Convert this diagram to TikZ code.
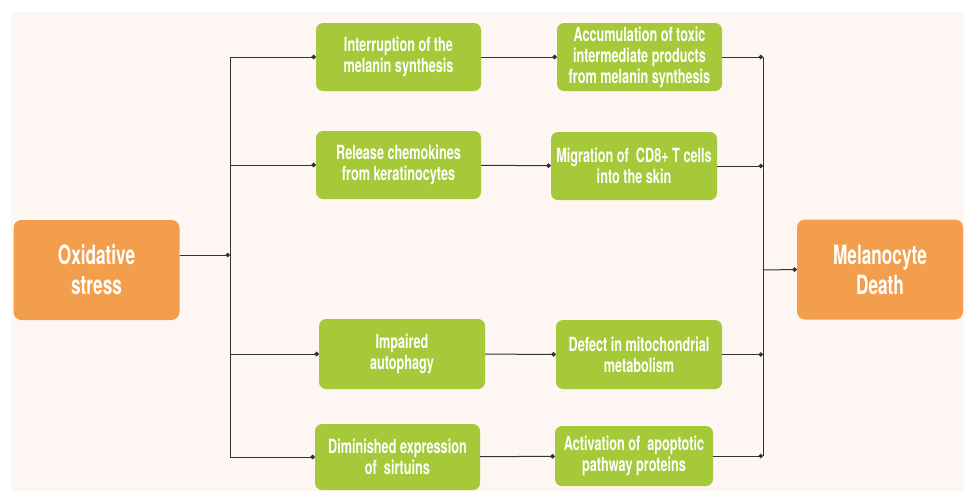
\documentclass[tikz,border=0pt]{standalone}
\usepackage{fontspec}
\setmainfont{TeX Gyre Heros}[FakeStretch=0.65]
\usetikzlibrary{arrows.meta}
\definecolor{leaf}{RGB}{165,201,57}
\definecolor{peel}{RGB}{242,158,76}
\definecolor{paper}{RGB}{253,246,243}
\definecolor{wire}{RGB}{50,50,50}

\begin{document}
\begin{tikzpicture}[x=1pt,y=-1pt,
    stage/.style={fill=leaf, rounded corners=7pt, text=white, align=center, inner sep=0pt,
      font=\bfseries\fontsize{19.5}{21}\selectfont},
    cause/.style={fill=peel, rounded corners=8pt, text=white, align=center, inner sep=0pt,
      minimum width=166pt, minimum height=100pt, font=\bfseries\fontsize{26.5}{30}\selectfont},
    link/.style={draw=wire, line width=1pt},
    dot/.style={-{Circle[length=4.5pt, width=4.5pt]}}]
    \useasboundingbox (0,0) rectangle (964,491);
    \fill[paper] (11,12) rectangle (964,491);

      \node[cause] (ox) at (96.5,270) {Oxidative\\stress};
      \node[cause] (death) at (880,269.5) {Melanocyte\\Death};
      \node[stage, minimum width=165pt, minimum height=68pt] (int) at (398.5,57) {Interruption of the\\melanin synthesis};
      \node[stage, minimum width=165pt, minimum height=68pt] (acc) at (639.5,57) {Accumulation of toxic\\intermediate products\\from melanin synthesis};
      \node[stage, minimum width=165pt, minimum height=68pt] (rel) at (398.5,165) {Release chemokines\\from keratinocytes};
      \node[stage, minimum width=166pt, minimum height=68pt] (mig) at (634,166) {Migration of\ \ CD8+ T cells\\into the skin};
      \node[stage, minimum width=166pt, minimum height=70pt] (imp) at (402,354) {Impaired\\autophagy};
      \node[stage, minimum width=166pt, minimum height=69pt] (def) at (639,354.5) {Defect in mitochondrial\\metabolism};
      \node[stage, minimum width=165pt, minimum height=66pt] (dim) at (397.5,457) {Diminished expression\\of\ \ sirtuins};
      \node[stage, minimum width=158pt, minimum height=60pt] (act) at (634,456) {Activation of\ \ apoptotic\\pathway proteins};

      \coordinate (lbus) at (230,255);
      \coordinate (rbus) at (763,270);

      \draw[link, dot] (ox.east |- lbus) -- (lbus);
      \draw[link] (int.west -| lbus) -- (dim.west -| lbus);
      \foreach \n in {int,rel,imp,dim}
        \draw[link, dot] (\n.west -| lbus) -- (\n.west);

      \draw[link, dot] (int) -- (acc);
      \draw[link, dot] (rel) -- (mig);
      \draw[link, dot] (imp) -- (def);
      \draw[link, dot] (dim) -- (act);

      \foreach \n in {acc,mig,def,act}
        \draw[link, dot] (\n.east) -- (\n.east -| rbus);
      \draw[link] (acc.east -| rbus) -- (act.east -| rbus);
      \draw[link, dot] (rbus) -- (death.west);
\end{tikzpicture}
\end{document}
